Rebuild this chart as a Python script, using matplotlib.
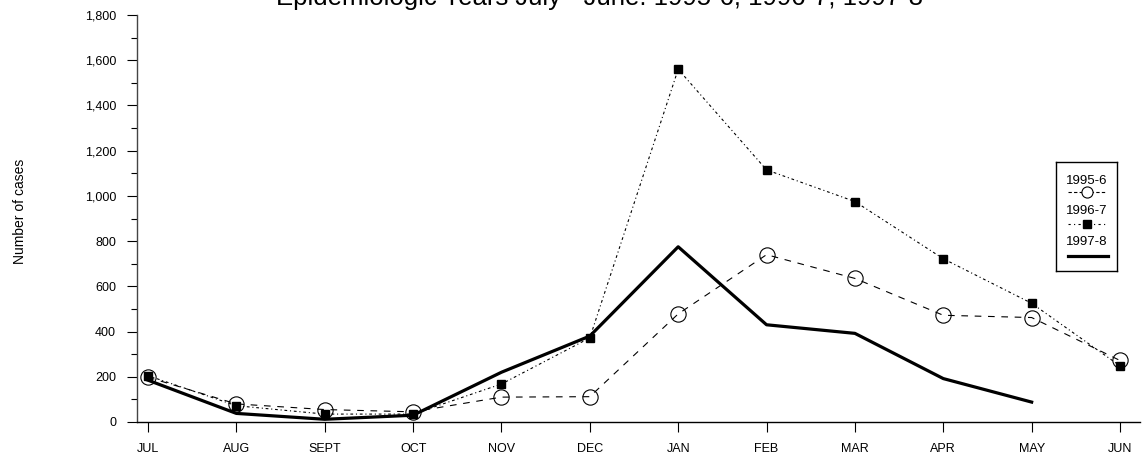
import matplotlib.pyplot as plt
from matplotlib.ticker import FuncFormatter, MultipleLocator

plt.rcParams['font.family'] = ['Liberation Sans', 'DejaVu Sans']

# Data
months = ['JUL', 'AUG', 'SEPT', 'OCT', 'NOV', 'DEC', 'JAN', 'FEB', 'MAR', 'APR', 'MAY', 'JUN']
cases_1995 = [198, 80, 55, 45, 110, 112, 478, 740, 635, 472, 462, 272]
cases_1996 = [205, 72, 35, 35, 168, 372, 1560, 1115, 975, 722, 525, 248]
cases_1997 = [185, 38, 12, 30, 220, 380, 775, 430, 392, 192, 88]
labels = ['1995-6', '1996-7', '1997-8']
title = 'Epidemiologic Years July - June: 1995-6, 1996-7, 1997-8'

W, H = 1143, 455
fig = plt.figure(figsize=(W / 100, H / 100), dpi=100)
ax = fig.add_axes([137 / W, (H - 422) / H, (1140 - 137) / W, (422 - 15) / H])

x = list(range(len(months)))
dash_95 = (0, (6, 6))
dash_96 = (0, (2.5, 2.5, 1, 2.5))

ax.plot(x, cases_1995, color='black', lw=0.8, ls=dash_95, marker='o', ms=11,
        mfc='none', mec='black', mew=0.8, zorder=2)
ax.plot(x, cases_1996, color='black', lw=0.8, ls=dash_96, marker='s', ms=6,
        mfc='black', mec='black', zorder=3)
ax.plot(x[:len(cases_1997)], cases_1997, color='black', lw=2.3, ls='-', zorder=4)

ax.set_xlim(-0.124, 11.226)
ax.set_ylim(0, 1800)
ax.set_xticks(x)
ax.set_xticklabels(months, fontsize=9)
ax.yaxis.set_major_locator(MultipleLocator(200))
ax.yaxis.set_minor_locator(MultipleLocator(100))
ax.yaxis.set_major_formatter(FuncFormatter(lambda v, p: f'{int(v):,}'))
ax.tick_params(axis='y', which='major', length=7, width=0.8, labelsize=9, pad=8)
ax.tick_params(axis='y', which='minor', length=4, width=0.8)
ax.tick_params(axis='x', which='major', length=7, width=0.8, labelsize=9, pad=8)
for s in ['top', 'right']:
    ax.spines[s].set_visible(False)
ax.spines['left'].set_linewidth(1.0)
ax.spines['left'].set_color('#444444')
ax.spines['bottom'].set_linewidth(1.0)

fig.text(20 / W, 1 - 211 / H, 'Number of cases', rotation=90, fontsize=10,
         ha='center', va='center')
fig.text(599 / W, 1 - 5 / H, title, fontsize=18.5, ha='center', va='baseline')

# legend box: label above each line sample
lg = fig.add_axes([1056 / W, 1 - 271 / H, (1117 - 1056) / W, (271 - 162) / H])
lg.set_xlim(0, 1)
lg.set_ylim(0, 1)
lg.set_xticks([])
lg.set_yticks([])
for s in lg.spines.values():
    s.set_linewidth(1.0)
bh = 271 - 162
def yy(py):
    return (271 - py) / bh
lg.text(0.5, yy(181), labels[0], fontsize=9.5, ha='center', va='center')
lg.plot([0.2, 0.8], [yy(192)] * 2, color='black', lw=0.8, ls=(0, (3, 2)))
lg.plot([0.5], [yy(192)], marker='o', ms=8, mfc='white', mec='black', mew=0.8)
lg.text(0.5, yy(211), labels[1], fontsize=9.5, ha='center', va='center')
lg.plot([0.2, 0.8], [yy(224)] * 2, color='black', lw=0.8, ls=(0, (2, 3, 1, 3)))
lg.plot([0.5], [yy(224)], marker='s', ms=6, color='black')
lg.text(0.5, yy(242), labels[2], fontsize=9.5, ha='center', va='center')
lg.plot([0.2, 0.85], [yy(256)] * 2, color='black', lw=2.3)

fig.savefig('out.png', dpi=100)
